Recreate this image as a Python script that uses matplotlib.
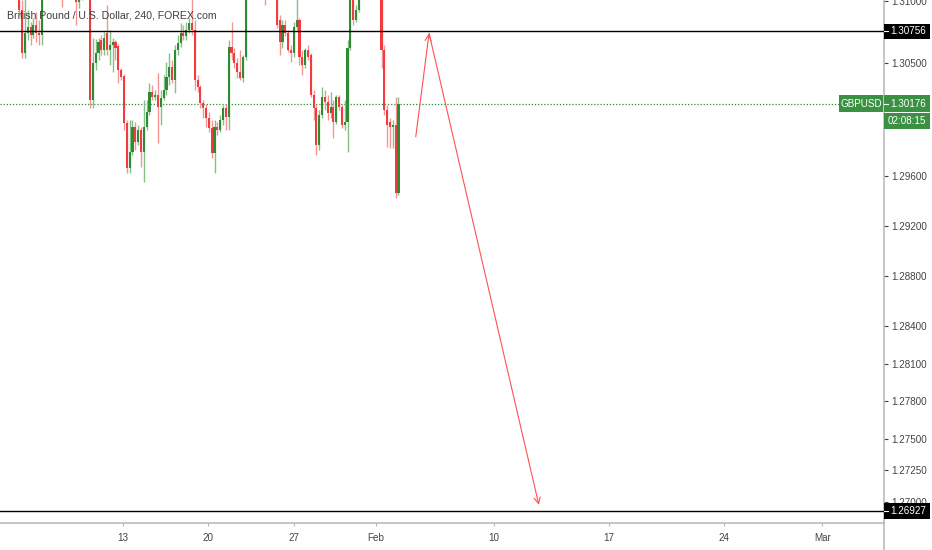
import matplotlib
matplotlib.use("Agg")
import matplotlib.pyplot as plt
import matplotlib.transforms as mtransforms
from matplotlib.patches import Rectangle
from matplotlib.lines import Line2D
import numpy as np

plt.rcParams['font.family'] = ['Liberation Sans', 'DejaVu Sans']
LBL = ['Liberation Sans', 'DejaVu Sans']

# ---------------- data ----------------
title = "British Pound / U.S. Dollar, 240, FOREX.com"
symbol = "GBPUSD"
countdown = "02:08:15"

opens = [1.31325, 1.31246, 1.31365, 1.31286, 1.31206, 1.31246, 1.31126, 1.30926, 1.30583, 1.30742,
         1.30790, 1.30726, 1.30806, 1.30742, 1.30726, 1.31086, 1.31246, 1.31365, 1.31325, 1.31445,
         1.31405, 1.31286, 1.31166, 1.31246, 1.31325, 1.31246, 1.31126, 1.30990, 1.31046, 1.31126,
         1.31206, 1.31166, 1.30207, 1.30503, 1.30583, 1.30687, 1.30607, 1.30742, 1.30607, 1.30647,
         1.30671, 1.30639, 1.30447, 1.30399, 1.30024, 1.29664, 1.29792, 1.29992, 1.29872, 1.29968,
         1.29792, 1.29992, 1.30111, 1.30271, 1.30231, 1.30247, 1.30151, 1.30223, 1.30287, 1.30391,
         1.30471, 1.30367, 1.30607, 1.30663, 1.30742, 1.30718, 1.30766, 1.30822, 1.30766, 1.30367,
         1.30311, 1.30183, 1.30143, 1.30063, 1.29984, 1.29784, 1.29992, 1.29968, 1.30048, 1.30143,
         1.30071, 1.30631, 1.30583, 1.30503, 1.30431, 1.30383, 1.30551, 1.31086, 1.31246, 1.31365,
         1.31445, 1.31325, 1.31286, 1.31166, 1.31086, 1.31206, 1.31246, 1.31166, 1.30846, 1.30671,
         1.30806, 1.30742, 1.30607, 1.30583, 1.30790, 1.30846, 1.30551, 1.30487, 1.30607, 1.30567,
         1.30247, 1.30143, 1.29848, 1.30087, 1.30231, 1.30191, 1.30103, 1.30151, 1.30032, 1.30231,
         1.30151, 1.30008, 1.30032, 1.30623, 1.31006, 1.30846, 1.30926, 1.31086, 1.31206, 1.31325,
         1.31405, 1.31325, 1.31286, 1.31206, 1.31126, 1.30607, 1.30127, 1.30032, 1.29992, 1.30008,
         1.29465]
highs = [1.31405, 1.31445, 1.31445, 1.31365, 1.31325, 1.31286, 1.31166, 1.31006, 1.31046, 1.30926,
         1.30830, 1.30862, 1.30910, 1.30846, 1.31166, 1.31325, 1.31445, 1.31485, 1.31525, 1.31565,
         1.31485, 1.31325, 1.31325, 1.31405, 1.31405, 1.31286, 1.31166, 1.31126, 1.31206, 1.31286,
         1.31286, 1.31206, 1.30702, 1.30694, 1.30702, 1.30726, 1.30750, 1.30966, 1.30766, 1.30702,
         1.30687, 1.30655, 1.30463, 1.30415, 1.30048, 1.30048, 1.30048, 1.30032, 1.30008, 1.29992,
         1.30207, 1.30207, 1.30343, 1.30327, 1.30287, 1.30423, 1.30287, 1.30407, 1.30511, 1.30583,
         1.30527, 1.30647, 1.30726, 1.30822, 1.30806, 1.30830, 1.30862, 1.31046, 1.30846, 1.30407,
         1.30327, 1.30207, 1.30175, 1.30111, 1.30048, 1.30048, 1.30032, 1.30087, 1.30167, 1.30175,
         1.30687, 1.30830, 1.30623, 1.30543, 1.30607, 1.30567, 1.31166, 1.31325, 1.31445, 1.31525,
         1.31485, 1.31405, 1.31325, 1.31206, 1.31246, 1.31325, 1.31325, 1.31206, 1.30886, 1.30846,
         1.30846, 1.30766, 1.30647, 1.30830, 1.31046, 1.30862, 1.30607, 1.30623, 1.30647, 1.30583,
         1.30287, 1.30167, 1.30127, 1.30311, 1.30287, 1.30247, 1.30271, 1.30207, 1.30247, 1.30247,
         1.30175, 1.30207, 1.30687, 1.31086, 1.31046, 1.30966, 1.31166, 1.31286, 1.31405, 1.31485,
         1.31525, 1.31405, 1.31365, 1.31246, 1.31166, 1.30647, 1.30167, 1.30063, 1.30048, 1.30231,
         1.30231]
lows = [1.31166, 1.31206, 1.31246, 1.31126, 1.31102, 1.31070, 1.30886, 1.30543, 1.30543, 1.30687,
        1.30647, 1.30702, 1.30671, 1.30647, 1.30647, 1.31046, 1.31206, 1.31246, 1.31286, 1.31325,
        1.31206, 1.30950, 1.31086, 1.31166, 1.31182, 1.31046, 1.30806, 1.30942, 1.31006, 1.31086,
        1.31086, 1.30143, 1.30143, 1.30447, 1.30527, 1.30567, 1.30567, 1.30567, 1.30487, 1.30431,
        1.30527, 1.30343, 1.30367, 1.29968, 1.29624, 1.29624, 1.29768, 1.29808, 1.29848, 1.29672,
        1.29552, 1.29968, 1.30087, 1.30207, 1.30207, 1.29864, 1.30008, 1.30207, 1.30247, 1.30327,
        1.30343, 1.30263, 1.30567, 1.30631, 1.30687, 1.30687, 1.30742, 1.30726, 1.30287, 1.30271,
        1.30143, 1.30063, 1.29992, 1.29952, 1.29744, 1.29624, 1.29928, 1.29952, 1.30008, 1.29968,
        1.29968, 1.30527, 1.30463, 1.30383, 1.30367, 1.30351, 1.30527, 1.31046, 1.31206, 1.31325,
        1.31246, 1.31206, 1.31086, 1.30966, 1.31046, 1.31126, 1.31086, 1.30782, 1.30567, 1.30623,
        1.30718, 1.30591, 1.30511, 1.30551, 1.30766, 1.30487, 1.30407, 1.30463, 1.30527, 1.30231,
        1.30048, 1.29768, 1.29808, 1.30063, 1.30127, 1.30048, 1.30063, 1.29904, 1.30016, 1.30127,
        1.29984, 1.29968, 1.29792, 1.30607, 1.30806, 1.30830, 1.30910, 1.31046, 1.31166, 1.31286,
        1.31246, 1.31206, 1.31126, 1.31070, 1.30463, 1.30087, 1.29832, 1.29824, 1.29824, 1.29425,
        1.29449]
closes = [1.31246, 1.31365, 1.31286, 1.31206, 1.31246, 1.31126, 1.30926, 1.30583, 1.30742, 1.30790,
          1.30726, 1.30806, 1.30742, 1.30726, 1.31086, 1.31246, 1.31365, 1.31325, 1.31445, 1.31405,
          1.31286, 1.31166, 1.31246, 1.31325, 1.31246, 1.31126, 1.30990, 1.31046, 1.31126, 1.31206,
          1.31166, 1.30207, 1.30503, 1.30583, 1.30671, 1.30607, 1.30702, 1.30607, 1.30647, 1.30671,
          1.30623, 1.30447, 1.30391, 1.30024, 1.29664, 1.29792, 1.29992, 1.29872, 1.29968, 1.29792,
          1.29992, 1.30111, 1.30271, 1.30231, 1.30247, 1.30151, 1.30223, 1.30287, 1.30391, 1.30471,
          1.30367, 1.30607, 1.30663, 1.30742, 1.30718, 1.30766, 1.30822, 1.30766, 1.30367, 1.30311,
          1.30183, 1.30143, 1.30063, 1.29984, 1.29784, 1.29992, 1.29968, 1.30048, 1.30143, 1.30071,
          1.30631, 1.30583, 1.30503, 1.30431, 1.30383, 1.30551, 1.31086, 1.31246, 1.31365, 1.31445,
          1.31325, 1.31286, 1.31166, 1.31086, 1.31206, 1.31246, 1.31166, 1.30806, 1.30671, 1.30806,
          1.30742, 1.30607, 1.30583, 1.30790, 1.30846, 1.30551, 1.30487, 1.30607, 1.30551, 1.30247,
          1.30143, 1.29848, 1.30087, 1.30231, 1.30191, 1.30103, 1.30151, 1.30032, 1.30231, 1.30151,
          1.30008, 1.30032, 1.30623, 1.31006, 1.30846, 1.30926, 1.31086, 1.31206, 1.31325, 1.31405,
          1.31325, 1.31286, 1.31206, 1.31126, 1.30607, 1.30127, 1.30008, 1.29992, 1.30008, 1.29465,
          1.30176]

date_tick_bars = [42.5, 72.7, 102.9, 131.9, 173.7, 214.4, 255.0, 289.8]
date_tick_labels = ["13", "20", "27", "Feb", "10", "17", "24", "Mar"]

price_ticks = [1.31000, 1.30500, 1.29600, 1.29200, 1.28800, 1.28400, 1.28100,
               1.27800, 1.27500, 1.27250, 1.27000]

resistance_level = 1.30756
target_level = 1.26927
last_price = 1.30176

arrow_bars = [146.1, 150.8, 189.6]
arrow_prices = [1.29914, 1.30740, 1.26973]

# ---------------- style ----------------
UP = '#2e8b34'
DOWN = '#f03c3c'
UP_WICK = '#86c089'
DOWN_WICK = '#f59494'
AXIS = '#b2b5be'
TXT = '#434343'
LABEL_GREEN = '#3b9142'
FS = 7.1

W, H = 932, 550
fig = plt.figure(figsize=(W / 100, H / 100), dpi=100)
ax_right_px, ax_bottom_px = 884, 522.7
ax = fig.add_axes([0, (H - ax_bottom_px) / H, ax_right_px / W, ax_bottom_px / H])
ax.set_facecolor('white')

px_per_bar = 2.83
first_px = 2.3
ax.set_xlim(-first_px / px_per_bar, (ax_right_px - first_px) / px_per_bar)
ax.set_ylim(1.26831, 1.31006)

o = np.array(opens); h = np.array(highs); l = np.array(lows); c = np.array(closes)
x = np.arange(len(o))
up = c >= o

# wicks
ax.vlines(x[up], l[up], h[up], color=UP_WICK, lw=1.0, zorder=2)
ax.vlines(x[~up], l[~up], h[~up], color=DOWN_WICK, lw=1.0, zorder=2)
# bodies
body_lo = np.minimum(o, c)
body_h = np.maximum(np.abs(c - o), 0.00003)
ax.bar(x[up], body_h[up], bottom=body_lo[up], width=0.75, color=UP, linewidth=0, zorder=3)
ax.bar(x[~up], body_h[~up], bottom=body_lo[~up], width=0.75, color=DOWN, linewidth=0, zorder=3)

# horizontal levels
ax.axhline(resistance_level, color='black', lw=1.0, zorder=4)
ax.axhline(target_level, color='black', lw=1.0, zorder=4)
ax.axhline(last_price, color=UP, lw=0.9, ls=(0, (1, 1.5)), zorder=1)

# drawn projection arrows
ap = dict(arrowstyle='->,head_length=0.45,head_width=0.22', color='#ff5050', lw=0.8,
          shrinkA=0, shrinkB=0)
ax.annotate('', xy=(arrow_bars[1], arrow_prices[1]), xytext=(arrow_bars[0], arrow_prices[0]),
            arrowprops=ap, zorder=5)
ax.annotate('', xy=(arrow_bars[2], arrow_prices[2]), xytext=(arrow_bars[1], arrow_prices[1]),
            arrowprops=ap, zorder=5)

# spines
for s in ['top', 'left']:
    ax.spines[s].set_visible(False)
for s in ['right', 'bottom']:
    ax.spines[s].set_color(AXIS)
    ax.spines[s].set_linewidth(1.1)
fig.add_artist(Line2D([ax_right_px / W] * 2, [0, (H - ax_bottom_px) / H],
                      transform=fig.transFigure, color=AXIS, lw=1.1))

# y axis (right)
ax.yaxis.tick_right()
ax.set_yticks(price_ticks)
ax.set_yticklabels([f"{v:.5f}" for v in price_ticks], family=LBL)
ax.tick_params(axis='y', length=3, width=0.8, color=TXT, labelcolor=TXT, labelsize=FS, pad=2)
# x axis
ax.set_xticks(date_tick_bars)
ax.set_xticklabels(date_tick_labels, family=LBL)
ax.tick_params(axis='x', length=2.5, width=0.8, color=AXIS, labelcolor=TXT, labelsize=FS, pad=5)

# price labels on the axis
blend = mtransforms.blended_transform_factory(ax.transAxes, ax.transData)
ppu = ax_bottom_px / (1.31006 - 1.26831)  # px per price unit
ax_w = ax_right_px


def axis_label(price, text, fc, x0_px, x1_px, h_px=16, tc='white'):
    hh = h_px / ppu
    r = Rectangle((x0_px / ax_w, price - hh / 2), (x1_px - x0_px) / ax_w, hh,
                  transform=blend, facecolor=fc, edgecolor='none', clip_on=False, zorder=10)
    ax.add_patch(r)
    ax.text((x0_px + 6.5) / ax_w, price, text, transform=blend, ha='left', va='center',
            color=tc, fontsize=FS, family=LBL, clip_on=False, zorder=11)
    ax.add_line(Line2D([x0_px / ax_w, (x0_px + 4) / ax_w], [price, price], transform=blend,
                       color=tc, lw=0.8, clip_on=False, zorder=11))


axis_label(resistance_level, f"{resistance_level:.5f}", 'black', 884, 930, h_px=15)
axis_label(target_level, f"{target_level:.5f}", 'black', 884, 930, h_px=16)
axis_label(last_price, f"{last_price:.5f}", LABEL_GREEN, 884, 930, h_px=17)
# countdown box
yc = last_price - 17.5 / ppu
hh = 16 / ppu
ax.add_patch(Rectangle((884 / ax_w, yc - hh / 2), 46 / ax_w, hh, transform=blend,
                       facecolor=LABEL_GREEN, edgecolor='none', clip_on=False, zorder=10))
ax.text(907 / ax_w, yc, countdown, transform=blend, ha='center', va='center', color='white',
        fontsize=FS, family=LBL, clip_on=False, zorder=11)
# symbol box inside plot
hh = 17 / ppu
ax.add_patch(Rectangle((839 / ax_w, last_price - hh / 2), 44 / ax_w, hh, transform=blend,
                       facecolor=LABEL_GREEN, edgecolor='none', clip_on=False, zorder=10))
ax.text(861 / ax_w, last_price, symbol, transform=blend, ha='center', va='center', color='white',
        fontsize=FS, family=LBL, clip_on=False, zorder=11)

# title
fig.text(7 / W, 1 - 16 / H, title, ha='left', va='center', color='#3e3e3e', fontsize=7.6, zorder=20)

fig.savefig('out.png', dpi=100)
